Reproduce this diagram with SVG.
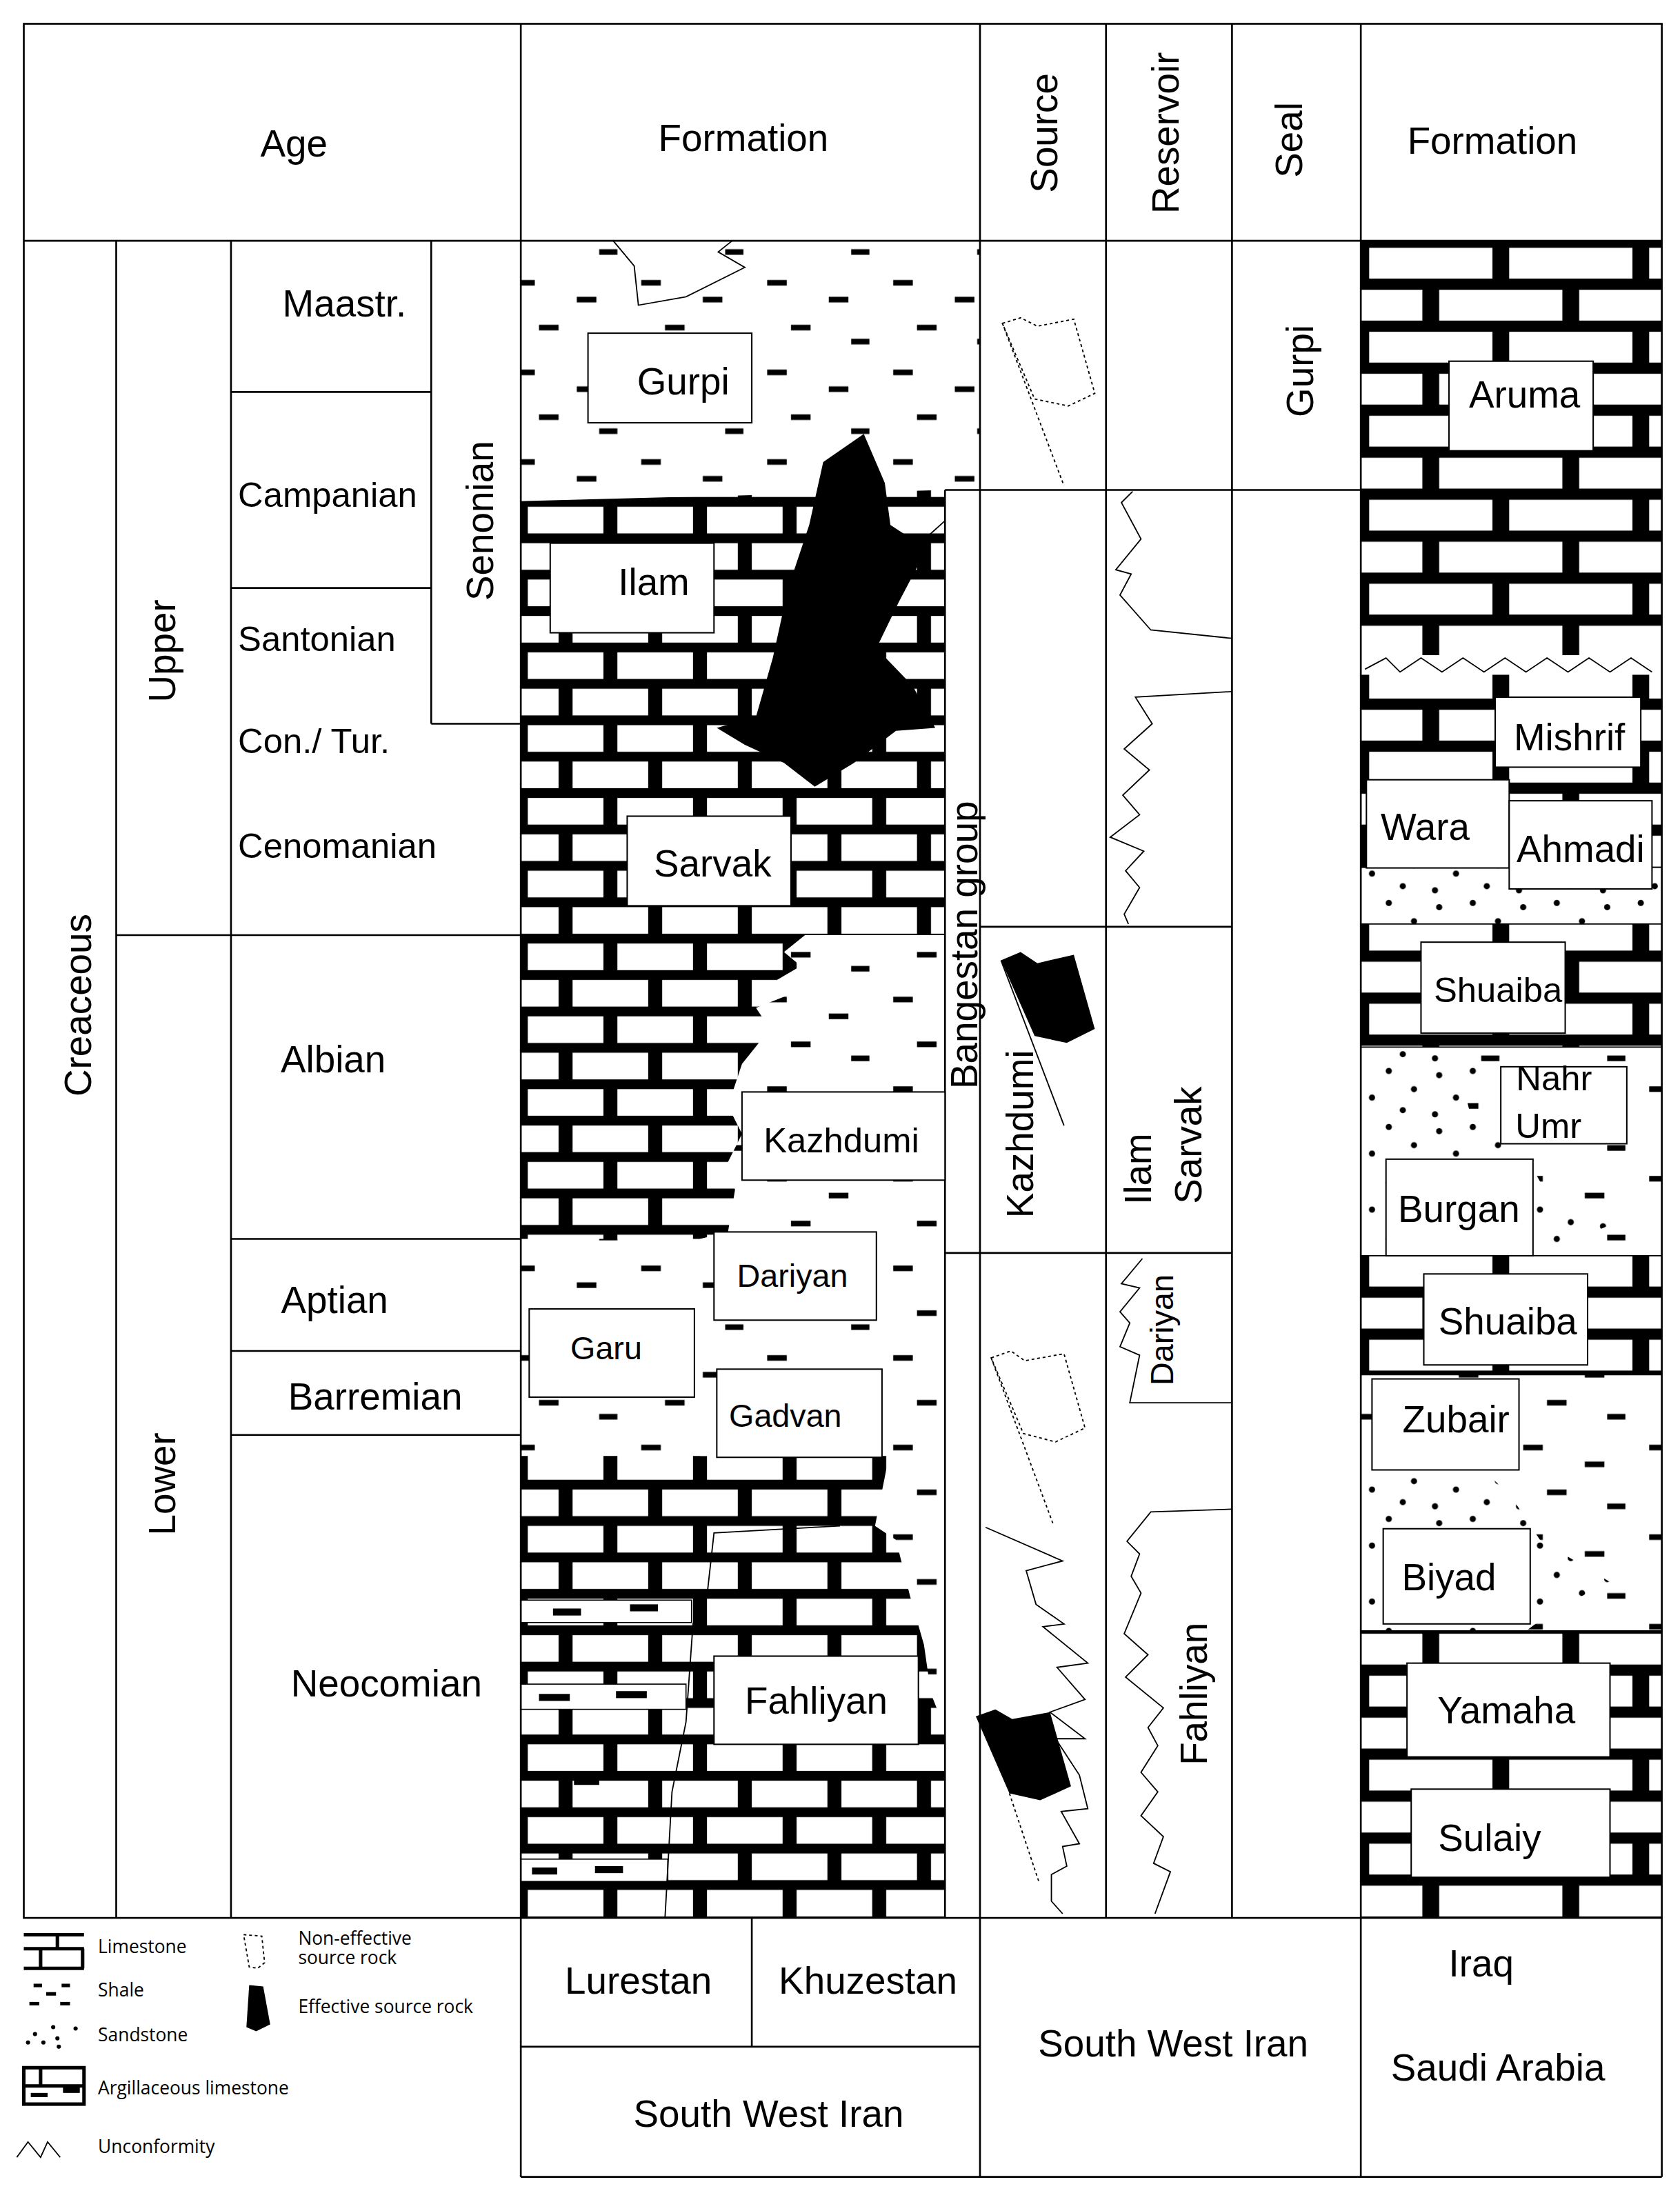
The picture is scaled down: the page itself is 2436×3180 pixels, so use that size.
<svg xmlns="http://www.w3.org/2000/svg" width="2436" height="3180" viewBox="0 0 2436 3180">
<style>
.t{font-family:"Liberation Sans",Arial,sans-serif;fill:#000}
.l{stroke:#000;stroke-width:1.3;fill:none}
.box{fill:#fff;stroke:#000;stroke-width:1}
.thin{stroke:#000;stroke-width:0.9;fill:none}
.dot{stroke:#000;stroke-width:0.9;fill:#fff;stroke-dasharray:2 2}
.lg{font-family:"Open Sans","Liberation Sans",sans-serif;font-size:13px}
</style>
<defs>
<pattern id="lime" patternUnits="userSpaceOnUse" width="64" height="52" x="372" y="358">
<rect width="64" height="52" fill="#000"/>
<rect x="5" y="4" width="54" height="19" fill="#fff"/>
<rect x="-27" y="30" width="54" height="19" fill="#fff"/>
<rect x="37" y="30" width="54" height="19" fill="#fff"/>
</pattern>
<pattern id="lime2" patternUnits="userSpaceOnUse" width="100" height="60" x="972" y="172">
<rect width="100" height="60" fill="#000"/>
<rect x="6" y="5" width="88" height="22" fill="#fff"/>
<rect x="-44" y="35" width="88" height="22" fill="#fff"/>
<rect x="56" y="35" width="88" height="22" fill="#fff"/>
</pattern>
<pattern id="shale" patternUnits="userSpaceOnUse" width="90" height="64">
<rect width="90" height="64" fill="#fff"/>
<rect x="8" y="8" width="14" height="4" fill="#000"/>
<rect x="52" y="20" width="14" height="4" fill="#000"/>
<rect x="25" y="40" width="14" height="4" fill="#000"/>
<rect x="68" y="50" width="13" height="4" fill="#000"/>
</pattern>
<pattern id="sand" patternUnits="userSpaceOnUse" width="60" height="40">
<rect width="60" height="40" fill="#fff"/>
<circle cx="8" cy="8" r="2.2"/><circle cx="32" cy="5" r="2.2"/><circle cx="50" cy="18" r="2.2"/>
<circle cx="20" cy="24" r="2.2"/><circle cx="42" cy="33" r="2.2"/><circle cx="5" cy="36" r="2.2"/>
</pattern>
</defs>
<rect width="2436" height="3180" fill="#fff"/>
<g transform="scale(2.03)">

<g id="iran-lithology">
<rect x="372" y="172" width="303" height="1198" fill="url(#lime)"/>
<polygon points="372,172 700,172 700,350 675,350 600,352 372,358" fill="url(#shale)"/>
<polygon points="675,668 575,668 560,680 572,690 555,700 565,710 540,720 550,735 530,760 520,790 530,810 520,830 525,850 520,880 500,885 500,1040 635,1040 625,1090 640,1100 650,1140 660,1175 665,1210 675,1235" fill="url(#shale)"/>
<polygon points="372,885 510,885 510,1040 372,1040" fill="url(#shale)"/>
<g fill="#fff" stroke="#000" stroke-width="0.8">
<rect x="372" y="1143" width="122" height="16"/>
<rect x="372" y="1203" width="118" height="18"/>
<rect x="372" y="1328" width="105" height="16"/>
</g>
<g fill="#000">
<rect x="395" y="1149" width="20" height="5"/><rect x="450" y="1146" width="20" height="5"/>
<rect x="385" y="1210" width="22" height="5"/><rect x="440" y="1208" width="22" height="5"/>
<rect x="380" y="1334" width="18" height="5"/><rect x="425" y="1333" width="20" height="5"/>
<rect x="410" y="1270" width="18" height="5"/>
</g>
<polyline class="thin" points="600,1090 510,1095 505,1140 495,1160 490,1230 480,1280 475,1370"/>
<polyline class="thin" points="438,172 453,190 456,218 490,212 532,191 513,180 523,172"/>
<polygon fill="#000" points="588,330 617,310 632,345 636,375 662,392 642,430 626,463 652,490 668,520 640,522 610,545 582,562 560,545 532,532 512,520 540,512 552,470 563,420 578,375"/>
<polyline class="thin" points="655,390 675,372"/>
</g>

<g id="iraq-lithology">
<rect x="972" y="172" width="215" height="1198" fill="url(#lime2)"/>
<rect x="972" y="468" width="215" height="14" fill="#fff"/>
<polyline class="thin" points="975,478 990,470 1000,480 1015,470 1030,480 1045,470 1060,480 1075,470 1090,480 1105,470 1120,480 1135,470 1150,480 1165,470 1180,480"/>
<rect x="972" y="620" width="215" height="40" fill="url(#sand)"/>
<rect x="972" y="748" width="215" height="149" fill="url(#sand)"/>
<polygon points="1040,748 1187,748 1187,897 1100,897 1150,875 1110,862 1095,835 1065,805 1050,795 1045,775 1065,762" fill="url(#shale)"/>
<rect x="972" y="982" width="215" height="183" fill="url(#shale)"/>
<polygon points="972,1045 1055,1045 1080,1070 1100,1100 1150,1130 1110,1150 1090,1165 972,1165" fill="url(#sand)"/>
<g class="thin"><line x1="972" y1="748" x2="1187" y2="748"/><line x1="972" y1="897" x2="1187" y2="897"/><line x1="972" y1="982" x2="1187" y2="982"/><line x1="972" y1="1165" x2="1187" y2="1165"/><line x1="972" y1="660" x2="1187" y2="660"/></g>
</g>

<g id="connectors">
<rect class="l" x="17" y="17" width="1170" height="1353"/>
<line class="l" x1="17" y1="172" x2="1187" y2="172"/>
<line class="l" x1="83" y1="172" x2="83" y2="1370"/>
<line class="l" x1="165" y1="172" x2="165" y2="1370"/>
<line class="l" x1="308" y1="172" x2="308" y2="517"/>
<line class="l" x1="372" y1="17" x2="372" y2="1555"/>
<line class="l" x1="700" y1="17" x2="700" y2="1555"/>
<line class="l" x1="790" y1="17" x2="790" y2="1370"/>
<line class="l" x1="880" y1="17" x2="880" y2="1370"/>
<line class="l" x1="972" y1="17" x2="972" y2="1555"/>
<line class="l" x1="1187" y1="1370" x2="1187" y2="1555"/>
<line class="l" x1="372" y1="1555" x2="1187" y2="1555"/>
<line class="l" x1="372" y1="1462" x2="700" y2="1462"/>
<line class="l" x1="537" y1="1370" x2="537" y2="1462"/>
<line class="l" x1="165" y1="280" x2="308" y2="280"/>
<line class="l" x1="165" y1="420" x2="308" y2="420"/>
<line class="l" x1="308" y1="517" x2="372" y2="517"/>
<line class="l" x1="83" y1="668" x2="372" y2="668"/>
<line class="l" x1="165" y1="885" x2="372" y2="885"/>
<line class="l" x1="165" y1="965" x2="372" y2="965"/>
<line class="l" x1="165" y1="1025" x2="372" y2="1025"/>
<line class="l" x1="675" y1="350" x2="972" y2="350"/>
<line class="l" x1="675" y1="350" x2="675" y2="1370"/>
<line class="l" x1="700" y1="662" x2="880" y2="662"/>
<line class="l" x1="675" y1="895" x2="880" y2="895"/>
<polyline class="thin" points="809,351 801,359 815,385 797,407 808,410 800,425 822,450 880,456"/>
<polyline class="thin" points="880,494 811,498 823,517 803,535 821,550 802,568 814,582 793,598 817,608 804,622 814,634 803,653 806,660"/>
<polyline class="thin" points="816,899 801,917 814,920 800,937 807,945 800,962 814,968 807,1002 880,1002"/>
<polyline class="thin" points="880,1078 822,1080 805,1101 814,1110 808,1126 815,1138 803,1167 820,1182 804,1198 831,1220 820,1234 827,1247 815,1266 827,1280 815,1297 831,1312 824,1331 836,1337 825,1367"/>
<polygon class="dot" points="716,231 729,227 741,233 767,228 782,281 763,290 739,285"/>
<line class="dot" x1="716" y1="231" x2="760" y2="347"/>
<polygon fill="#000" points="715,686 729,680 741,688 767,682 782,735 762,745 739,740"/>
<line class="thin" x1="715" y1="686" x2="760" y2="804"/>
<polygon class="dot" points="708,970 722,965 732,972 760,967 775,1020 754,1030 731,1024"/>
<line class="dot" x1="708" y1="970" x2="752" y2="1088"/>
<polyline class="thin" points="704,1091 759,1115 733,1122 740,1146 760,1160 745,1162 777,1188 755,1191 775,1214 750,1223 775,1242 754,1242 771,1268 777,1292 758,1294 771,1317 759,1319 762,1333 751,1339 751,1358 759,1367"/>
<polygon fill="#000" points="697,1226 711,1221 723,1228 750,1223 765,1276 743,1286 721,1281"/>
<line class="dot" x1="721" y1="1281" x2="742" y2="1344"/>
</g>

<g id="boxes">
<rect class="box" x="420" y="238" width="117" height="64"/>
<rect class="box" x="393" y="388" width="117" height="64"/>
<rect class="box" x="448" y="583" width="117" height="64"/>
<rect class="box" x="530" y="780" width="145" height="63"/>
<rect class="box" x="510" y="880" width="116" height="63"/>
<rect class="box" x="378" y="935" width="118" height="63"/>
<rect class="box" x="512" y="978" width="118" height="63"/>
<rect class="box" x="510" y="1183" width="146" height="63"/>
<rect class="box" x="1035" y="258" width="103" height="64"/>
<rect class="box" x="1068" y="498" width="104" height="50"/>
<rect class="box" x="976" y="557" width="102" height="63"/>
<rect class="box" x="1078" y="572" width="102" height="63"/>
<rect class="box" x="1015" y="673" width="103" height="65"/>
<rect class="box" x="1072" y="762" width="90" height="55"/>
<rect class="box" x="990" y="828" width="105" height="69"/>
<rect class="box" x="1017" y="910" width="117" height="65"/>
<rect class="box" x="980" y="985" width="105" height="65"/>
<rect class="box" x="988" y="1092" width="105" height="68"/>
<rect class="box" x="1005" y="1188" width="145" height="67"/>
<rect class="box" x="1008" y="1278" width="142" height="63"/>
</g>

<g id="labels" class="t" font-size="27">
<text x="210" y="112" text-anchor="middle">Age</text>
<text x="531" y="108" text-anchor="middle">Formation</text>
<text x="1066" y="110" text-anchor="middle">Formation</text>
<text transform="translate(755,95) rotate(-90)" text-anchor="middle">Source</text>
<text transform="translate(842,95) rotate(-90)" text-anchor="middle">Reservoir</text>
<text transform="translate(930,100) rotate(-90)" text-anchor="middle">Seal</text>
<text transform="translate(65,718) rotate(-90)" text-anchor="middle">Creaceous</text>
<text transform="translate(125,465) rotate(-90)" text-anchor="middle">Upper</text>
<text transform="translate(125,1060) rotate(-90)" text-anchor="middle">Lower</text>
<text transform="translate(352,372) rotate(-90)" text-anchor="middle">Senonian</text>
<text x="246" y="226" text-anchor="middle">Maastr.</text>
<text x="170" y="362" font-size="25">Campanian</text>
<text x="170" y="465" font-size="25">Santonian</text>
<text x="170" y="538" font-size="25">Con./ Tur.</text>
<text x="170" y="613" font-size="25">Cenomanian</text>
<text x="238" y="766" text-anchor="middle">Albian</text>
<text x="239" y="938" text-anchor="middle">Aptian</text>
<text x="268" y="1007" text-anchor="middle">Barremian</text>
<text x="276" y="1212" text-anchor="middle">Neocomian</text>
<text x="488" y="282" text-anchor="middle">Gurpi</text>
<text x="467" y="425" text-anchor="middle">Ilam</text>
<text x="509" y="626" text-anchor="middle">Sarvak</text>
<text x="601" y="823" text-anchor="middle" font-size="25">Kazhdumi</text>
<text x="566" y="919" text-anchor="middle" font-size="23">Dariyan</text>
<text x="433" y="971" text-anchor="middle" font-size="23">Garu</text>
<text x="561" y="1019" text-anchor="middle" font-size="23">Gadvan</text>
<text x="583" y="1224" text-anchor="middle">Fahliyan</text>
<text transform="translate(698,675) rotate(-90)" text-anchor="middle">Bangestan group</text>
<text transform="translate(738,810) rotate(-90)" text-anchor="middle">Kazhdumi</text>
<text transform="translate(822,835) rotate(-90)" text-anchor="middle">Ilam</text>
<text transform="translate(858,818) rotate(-90)" text-anchor="middle">Sarvak</text>
<text transform="translate(838,950) rotate(-90)" text-anchor="middle" font-size="23">Dariyan</text>
<text transform="translate(862,1210) rotate(-90)" text-anchor="middle">Fahliyan</text>
<text transform="translate(938,265) rotate(-90)" text-anchor="middle">Gurpi</text>
<text x="1089" y="291" text-anchor="middle">Aruma</text>
<text x="1121" y="536" text-anchor="middle">Mishrif</text>
<text x="1018" y="600" text-anchor="middle">Wara</text>
<text x="1129" y="616" text-anchor="middle">Ahmadi</text>
<text x="1070" y="716" text-anchor="middle" font-size="25">Shuaiba</text>
<text x="1110" y="779" text-anchor="middle" font-size="25">Nahr</text>
<text x="1106" y="813" text-anchor="middle" font-size="25">Umr</text>
<text x="1042" y="873" text-anchor="middle">Burgan</text>
<text x="1077" y="953" text-anchor="middle">Shuaiba</text>
<text x="1040" y="1023" text-anchor="middle">Zubair</text>
<text x="1035" y="1136" text-anchor="middle">Biyad</text>
<text x="1076" y="1231" text-anchor="middle">Yamaha</text>
<text x="1064" y="1322" text-anchor="middle">Sulaiy</text>
<text x="456" y="1424" text-anchor="middle">Lurestan</text>
<text x="620" y="1424" text-anchor="middle">Khuzestan</text>
<text x="549" y="1519" text-anchor="middle">South West Iran</text>
<text x="838" y="1469" text-anchor="middle">South West Iran</text>
<text x="1058" y="1412" text-anchor="middle">Iraq</text>
<text x="1070" y="1486" text-anchor="middle">Saudi Arabia</text>
</g>

<g id="legend">
<g stroke="#000" stroke-width="2.5" fill="none">
<line x1="17" y1="1382" x2="60" y2="1382"/><line x1="17" y1="1392" x2="60" y2="1392"/><line x1="17" y1="1406" x2="60" y2="1406"/>
<line x1="41" y1="1382" x2="41" y2="1392"/><line x1="29" y1="1392" x2="29" y2="1406"/><line x1="59" y1="1392" x2="59" y2="1406"/>
<rect x="17" y="1477" width="43" height="26"/><line x1="17" y1="1490" x2="60" y2="1490"/><line x1="29" y1="1477" x2="29" y2="1490"/>
</g>
<g fill="#000">
<rect x="22" y="1495" width="12" height="3"/><rect x="45" y="1491" width="12" height="4"/>
<rect x="24" y="1417" width="6" height="2.5"/><rect x="44" y="1417" width="6" height="2.5"/><rect x="33" y="1423" width="7" height="2.5"/><rect x="21" y="1430" width="7" height="2.5"/><rect x="43" y="1430" width="7" height="2.5"/>
<circle cx="38" cy="1448" r="1.5"/><circle cx="54" cy="1449" r="1.5"/><circle cx="25" cy="1453" r="1.5"/><circle cx="41" cy="1456" r="1.5"/><circle cx="20" cy="1459" r="1.5"/><circle cx="31" cy="1459" r="1.5"/><circle cx="42" cy="1462" r="1.5"/>
<polygon points="178,1418 188,1419 193,1446 183,1451 176,1448"/>
</g>
<polygon class="dot" points="174,1382 187,1383 189,1402 184,1406 178,1405"/>
<polyline class="thin" points="12,1541 20,1530 29,1541 34,1530 43,1541"/>
<text class="lg" x="70" y="1395">Limestone</text>
<text class="lg" x="70" y="1426">Shale</text>
<text class="lg" x="70" y="1458">Sandstone</text>
<text class="lg" x="70" y="1496">Argillaceous limestone</text>
<text class="lg" x="70" y="1538">Unconformity</text>
<text class="lg" x="213" y="1389">Non-effective</text>
<text class="lg" x="213" y="1403">source rock</text>
<text class="lg" x="213" y="1438">Effective source rock</text>
</g>
</g>
</svg>
